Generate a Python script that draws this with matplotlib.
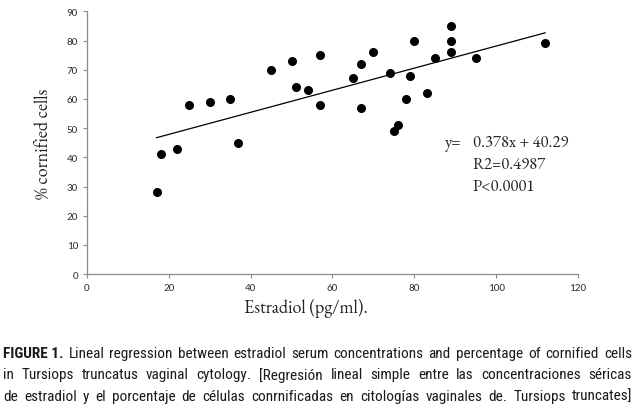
#!/usr/bin/env python3
"""Estradiol vs % cornified cells scatter with linear fit."""

import matplotlib
matplotlib.use("Agg")
import matplotlib.pyplot as plt
from matplotlib import font_manager
import numpy as np

# Estradiol (pg/ml) and % cornified cells
estradiol = [17, 18, 22, 25, 30, 35, 37, 45, 50, 51, 54, 57, 57,
             65, 67, 67, 70, 74, 75, 76, 78, 79, 80, 83, 85,
             89, 89, 89, 95, 112]
cornified = [28, 41, 43, 58, 59, 60, 45, 70, 73, 64, 63, 75, 58,
             67, 72, 57, 76, 69, 49, 51, 60, 68, 80, 62, 74,
             85, 80, 76, 74, 79]

SLOPE = 0.378
INTERCEPT = 40.29
FIT_TEXT = ["y=", "0.378x + 40.29", "R2=0.4987", "P<0.0001"]

X_TICKS = [0, 20, 40, 60, 80, 100, 120]
Y_TICKS = [0, 10, 20, 30, 40, 50, 60, 70, 80, 90]

CAPTION_BOLD = "FIGURE 1."
CAPTION_LINES = [
    "Lineal regression between estradiol serum concentrations and percentage of cornified cells",
    "in Tursiops truncatus vaginal cytology. [Regresión lineal simple entre las concentraciones séricas",
    "de estradiol y el porcentaje de células conrnificadas en citologías vaginales de. Tursiops truncates]",
]

available = {f.name for f in font_manager.fontManager.ttflist}


def pick(*names):
    for n in names:
        if n in available:
            return n
    return "DejaVu Sans"


NARROW = pick("Roboto Condensed", "Archivo Narrow", "PT Sans Narrow", "Asap Condensed",
              "Barlow Condensed")
SERIF = pick("EB Garamond", "Cormorant Garamond", "Liberation Serif")
TICKF = pick("Carlito", "Lato", "Open Sans")
TXT = "#1a1a1a"


def justify_line(fig, renderer, words, y, x0, x1, size):
    """Place (text, bold) words so the line fills x0..x1 (pixels)."""
    arts = []
    widths = []
    for w, b in words:
        t = fig.text(0, y, w, ha="left", va="center", fontsize=size,
                     family=NARROW, fontweight="bold" if b else "normal", color=TXT)
        arts.append(t)
        widths.append(t.get_window_extent(renderer).width)
    gap = (x1 - x0 - sum(widths)) / max(len(words) - 1, 1)
    x = x0
    W = fig.bbox.width
    for t, w in zip(arts, widths):
        t.set_x(x / W)
        x += w + gap


def main():
    fig = plt.figure(figsize=(6.35, 4.10), dpi=100)
    ax = fig.add_axes([0.137, 0.329, 0.773, 0.641])

    ax.scatter(estradiol, cornified, s=30, color="black", zorder=3)

    xs = np.array([min(estradiol), max(estradiol)])
    ax.plot(xs, SLOPE * xs + INTERCEPT, color="black", linewidth=0.9)

    ax.set_xlim(0, 120)
    ax.set_ylim(0, 90)
    ax.set_xticks(X_TICKS)
    ax.set_yticks(Y_TICKS)
    for side in ["top", "right"]:
        ax.spines[side].set_visible(False)
    for side in ["left", "bottom"]:
        ax.spines[side].set_color("#8a8a8a")
        ax.spines[side].set_linewidth(0.9)
    ax.tick_params(colors="#8a8a8a", length=3, width=0.8, labelsize=8,
                   labelcolor="#333333")
    for lab in ax.get_xticklabels() + ax.get_yticklabels():
        lab.set_family(TICKF)

    # axis labels (serif, as in the original)
    fig.text(0.069, 0.649, "% cornified cells", rotation=90, ha="center",
             va="center", fontsize=13, family=SERIF, color="#222222")
    fig.text(0.482, 0.247, "Estradiol (pg/ml).", ha="center", va="center",
             fontsize=13, family=SERIF, color="#222222")

    # regression annotation
    fig.text(0.700, 0.651, FIT_TEXT[0], ha="left", va="center", fontsize=12,
             family=SERIF, color="#222222")
    for i, line in enumerate(FIT_TEXT[1:]):
        fig.text(0.745, 0.651 - i * 0.054, line, ha="left", va="center",
                 fontsize=12, family=SERIF, color="#222222")

    # caption, justified like the journal layout
    fig.canvas.draw()
    renderer = fig.canvas.get_renderer()
    x0, x1 = 3.0, 632.0
    size = 11.0
    probe = fig.text(0, 0, CAPTION_LINES[2], fontsize=size, family=NARROW)
    while probe.get_window_extent(renderer).width > (x1 - x0) * 0.998 and size > 6:
        size -= 0.1
        probe.set_fontsize(size)
    probe.remove()

    y0 = 1 - 354 / 410
    dy = 21.5 / 410
    lines = [[(CAPTION_BOLD, True)] + [(w, False) for w in CAPTION_LINES[0].split()]]
    lines += [[(w, False) for w in ln.split()] for ln in CAPTION_LINES[1:]]
    for i, words in enumerate(lines):
        justify_line(fig, renderer, words, y0 - i * dy, x0, x1, size)

    fig.savefig("out.png", dpi=100)
    plt.close(fig)


if __name__ == "__main__":
    main()
